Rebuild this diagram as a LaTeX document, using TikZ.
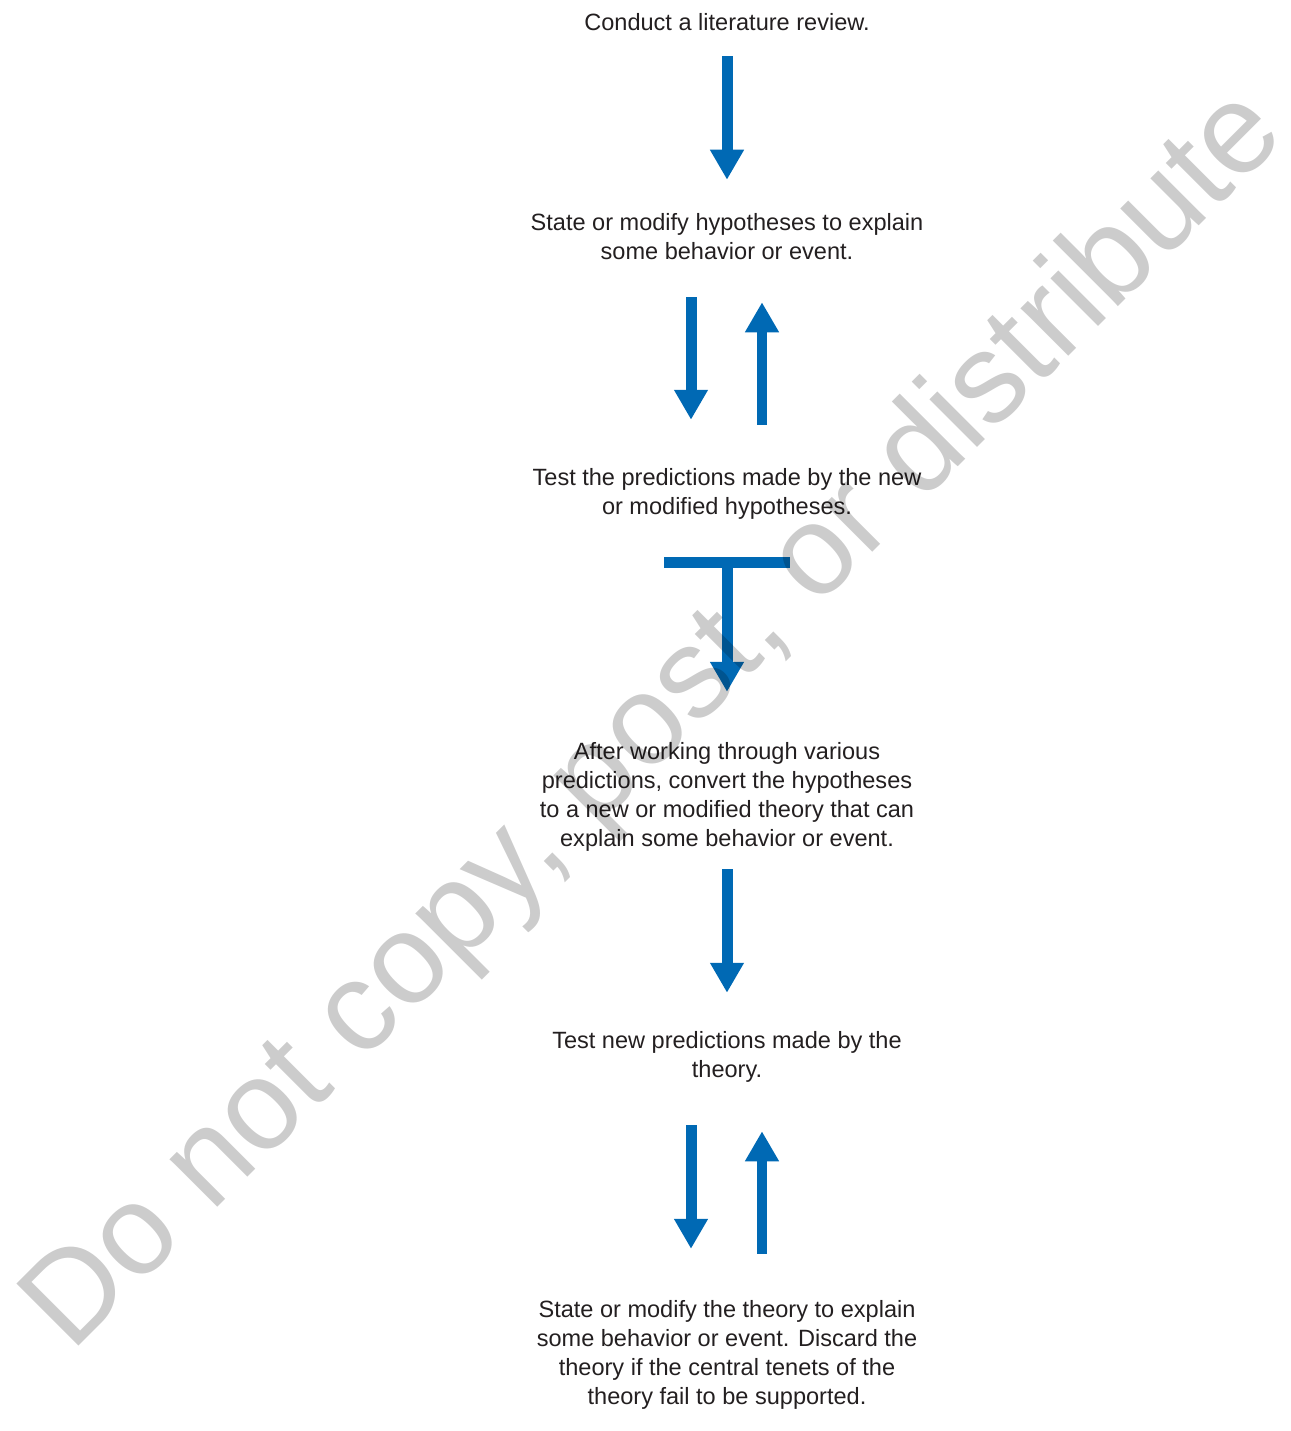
\documentclass[tikz,border=0pt]{standalone}
\usepackage{fontspec}
\setmainfont{Liberation Sans}
\usetikzlibrary{arrows.meta,positioning}

\definecolor{flowblue}{RGB}{0,105,180}
\definecolor{inkgray}{RGB}{35,31,32}

\begin{document}
\begin{tikzpicture}
  [x=0.02cm,y=-0.02cm,
   stage/.style={align=center,inner sep=0pt,text=inkgray,
                 font=\fontsize{13.4}{16.63}\selectfont},
   flow/.style={draw=flowblue,line width=0.22cm,
                -{Triangle[width=0.64cm,length=0.6cm]}},
   bar/.style={rectangle,fill=flowblue,inner sep=0pt,
               minimum width=2.54cm,minimum height=0.22cm},
   watermark/.style={inner sep=0pt,text=black,text opacity=0.2,
                     font=\fontsize{72.6}{80}\selectfont}]
  \useasboundingbox (0,0) rectangle (1291,1431);

  \node[stage] (review)  at (727,25.15)  {\strut Conduct a literature review.};
  \node[stage] (hyp)     at (727,238.8)  {\strut State or modify hypotheses to explain\\
                                          some behavior or event.\strut};
  \node[stage] (test)    at (727,493.8)  {\strut Test the predictions made by the new\\
                                          or modified hypotheses.\strut};
  \node[bar]   (tbar)    at (727,562.5)  {};
  \node[stage] (convert) at (727,797.1)  {\strut After working through various\\
                                          predictions, convert the hypotheses\\
                                          to a new or modified theory that can\\
                                          explain some behavior or event.\strut};
  \node[stage] (newtest) at (727,1056.8) {\strut Test new predictions made by the\\
                                          theory.\strut};
  \node[stage] (revise)  at (727,1355.1) {\strut State or modify the theory to explain\\
                                          some behavior or event. Discard the\\
                                          theory if the central tenets of the\\
                                          theory fail to be supported.\strut};

  \draw[flow,shorten <=0.324cm,shorten >=0.59cm] (review) -- (hyp);
  \draw[flow,shorten <=0.578cm,shorten >=0.89cm]
    ([xshift=-0.72cm]hyp.south) -- ([xshift=-0.72cm]test.north);
  \draw[flow,shorten <=0.79cm,shorten >=0.678cm]
    ([xshift=0.70cm]test.north) -- ([xshift=0.70cm]hyp.south);
  \draw[flow,shorten >=0.93cm] (tbar.center) -- (convert.north);
  \draw[flow,shorten <=0.266cm,shorten >=0.69cm] (convert) -- (newtest);
  \draw[flow,shorten <=0.778cm,shorten >=0.95cm]
    ([xshift=-0.72cm]newtest.south) -- ([xshift=-0.72cm]revise.north);
  \draw[flow,shorten <=0.85cm,shorten >=0.898cm]
    ([xshift=0.70cm]revise.north) -- ([xshift=0.70cm]newtest.south);

  \node[watermark,anchor=base west,rotate=45] (stamp) at (71,1354)
    {Do not copy, post, or distribute};
\end{tikzpicture}
\end{document}
